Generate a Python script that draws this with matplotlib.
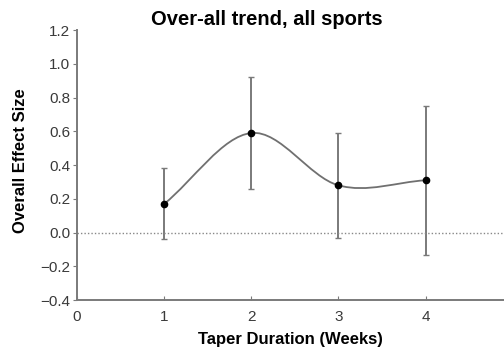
import numpy as np
import matplotlib
matplotlib.use('Agg')
import matplotlib.pyplot as plt
from matplotlib.path import Path
from matplotlib.patches import PathPatch

plt.rcParams['font.family'] = ['Liberation Sans', 'DejaVu Sans']

# effect size per taper duration, with confidence limits
weeks = [1, 2, 3, 4]
effect = [0.17, 0.59, 0.28, 0.31]
lower = [-0.04, 0.26, -0.03, -0.13]
upper = [0.38, 0.92, 0.59, 0.75]
yticks = [-0.4, -0.2, 0.0, 0.2, 0.4, 0.6, 0.8, 1.0, 1.2]

fig = plt.figure(figsize=(5.04, 3.49), dpi=100)
ax = fig.add_axes([0.153, 0.140, 0.847, 0.774])

# smooth curve through the points (Catmull-Rom as cubic Bezier segments)
x = np.array(weeks, dtype=float)
y = np.array(effect)
px = np.concatenate([[2 * x[0] - x[1]], x, [2 * x[-1] - x[-2]]])
py = np.concatenate([[2 * y[0] - y[1]], y, [2 * y[-1] - y[-2]]])
verts = [(x[0], y[0])]
codes = [Path.MOVETO]
for i in range(1, len(px) - 2):
    c1 = (px[i] + (px[i + 1] - px[i - 1]) / 6, py[i] + (py[i + 1] - py[i - 1]) / 6)
    c2 = (px[i + 1] - (px[i + 2] - px[i]) / 6, py[i + 1] - (py[i + 2] - py[i]) / 6)
    verts += [c1, c2, (px[i + 1], py[i + 1])]
    codes += [Path.CURVE4] * 3
ax.add_patch(PathPatch(Path(verts, codes), fill=False, edgecolor='#707070', lw=1.3))

yerr = [np.array(effect) - np.array(lower), np.array(upper) - np.array(effect)]
ax.errorbar(weeks, effect, yerr=yerr, fmt='o', color='black', ms=4.5,
            ecolor='#7a7a7a', elinewidth=1.4, capsize=2, capthick=1)

ax.axhline(0, color='#888888', lw=1, ls=(0, (1, 1.5)))

ax.set_xlim(0, 4.9)
ax.set_ylim(-0.4, 1.2)
ax.set_xticks([0, 1, 2, 3, 4])
ax.set_yticks(yticks)
ax.set_yticklabels([f'{v:.1f}'.replace('-', '\u2212') for v in yticks])

for s in ['top', 'right']:
    ax.spines[s].set_visible(False)
for s in ['left', 'bottom']:
    ax.spines[s].set_color('#7a7a7a')
    ax.spines[s].set_linewidth(1.4)
ax.tick_params(axis='y', direction='out', length=3, color='#7a7a7a',
               labelsize=11, labelcolor='#3a3a3a', pad=2)
ax.tick_params(axis='x', direction='in', length=3, color='#7a7a7a',
               labelsize=11, labelcolor='#3a3a3a', pad=7)

ax.set_xlabel('Taper Duration (Weeks)', fontsize=12, fontweight='bold', labelpad=6)
ax.set_ylabel('Overall Effect Size', fontsize=12, fontweight='bold')
ax.yaxis.set_label_coords(-0.115, 0.515)
fig.text(0.53, 0.943, 'Over-all trend, all sports', fontsize=14.5,
         fontweight='bold', ha='center', va='center')

fig.savefig('out.png', dpi=100)
